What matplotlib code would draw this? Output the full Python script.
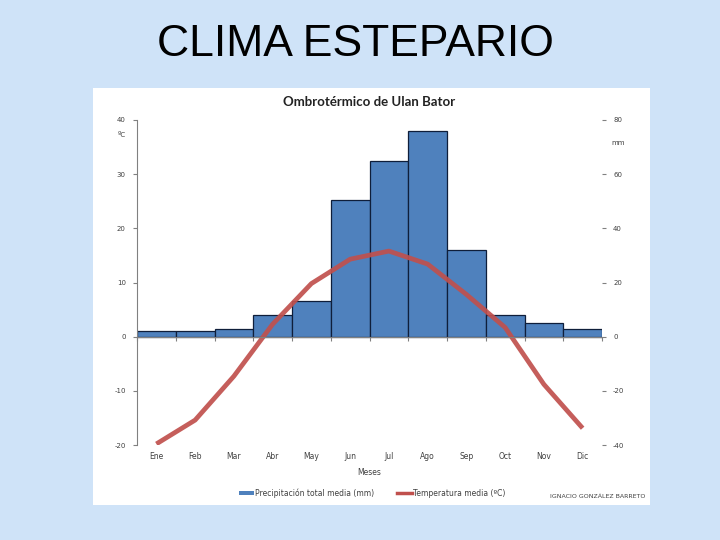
import matplotlib.pyplot as plt
import matplotlib as mpl
from matplotlib.patches import Rectangle, Patch
from matplotlib.lines import Line2D
import numpy as np

mpl.use("Agg")

# data
meses = ["Ene", "Feb", "Mar", "Abr", "May", "Jun",
         "Jul", "Ago", "Sep", "Oct", "Nov", "Dic"]
precipitacion = [2, 2, 3, 8, 13, 50.5, 65, 76, 32, 8, 5, 3]
temperatura = [-19.8, -15.4, -7.3, 2.3, 9.8, 14.3,
               15.8, 13.4, 7.8, 1.7, -8.8, -16.9]
temp_ticks = [40, 30, 20, 10, 0, -10, -20]
prec_ticks = [80, 60, 40, 20, 0, -20, -40]

BAR_BLUE = "#4f81bd"
LINE_RED = "#c0504d"
GREY = "#404040"

fig = plt.figure(figsize=(7.2, 5.4), dpi=100)
fig.patch.set_facecolor("#cfe3f8")

# white chart panel on the slide
fig.patches.append(Rectangle((93 / 720, 1 - 505 / 540), 557 / 720, 417 / 540,
                             transform=fig.transFigure, facecolor="white",
                             edgecolor="none", zorder=-5))

fig.text(355 / 720, 1 - 45 / 540, "CLIMA ESTEPARIO", ha="center", va="center",
         fontsize=32, family="Liberation Sans", color="black")

ax = fig.add_axes([137 / 720, 1 - 445 / 540, 465 / 720, 325 / 540])
ax2 = ax.twinx()

x = np.arange(len(meses))

ax2.bar(x, precipitacion, width=1.0, color=BAR_BLUE, edgecolor="#0f1e3a",
        linewidth=0.9)
ax2.set_ylim(-40, 80)
ax2.set_yticks(prec_ticks)
ax2.set_yticklabels([str(t) for t in prec_ticks])

ax.plot(x, temperatura, color=LINE_RED, lw=3.4, solid_capstyle="butt",
        alpha=0.92)
ax.set_ylim(-20, 40)
ax.set_yticks(temp_ticks)
ax.set_yticklabels([str(t) for t in temp_ticks])
ax.set_xlim(-0.5, len(meses) - 0.5)

# line above bars
ax.set_zorder(ax2.get_zorder() + 1)
ax.patch.set_visible(False)
ax2.patch.set_visible(False)

# horizontal axis at zero with ticks between categories
ax.spines["bottom"].set_position(("data", 0))
ax.spines["bottom"].set_color("#808080")
ax.set_xticks(np.arange(len(meses) + 1) - 0.5)
ax.set_xticklabels([])
ax.tick_params(axis="x", length=3, direction="out", color="#808080")

for s in ["top", "right"]:
    ax.spines[s].set_visible(False)
for s in ["top", "right", "left", "bottom"]:
    ax2.spines[s].set_visible(False)
ax.spines["left"].set_color("#808080")

ax.tick_params(axis="y", labelsize=5, length=3, color="#808080",
               labelcolor=GREY, pad=5)
ax2.tick_params(axis="y", labelsize=5, length=3, color="#808080",
                labelcolor=GREY, pad=5)

# month labels at the bottom
sec = ax.secondary_xaxis(location=0)
sec.spines["bottom"].set_visible(False)
sec.set_xticks(x)
sec.set_xticklabels(meses)
sec.tick_params(length=0, labelsize=5.5, labelcolor=GREY, pad=5)
sec.set_xlabel("Meses", fontsize=5.5, color=GREY, labelpad=5)

ax.set_title("Ombrotérmico de Ulan Bator", fontsize=9.5, fontweight="bold",
             family="Lato", color="#222222", pad=10)

fig.text(118 / 720, 1 - 135 / 540, "ºC", fontsize=5, color=GREY,
         ha="left", va="center")
fig.text(611 / 720, 1 - 143 / 540, "mm", fontsize=5, color=GREY,
         ha="left", va="center")

handles = [Patch(facecolor=BAR_BLUE, edgecolor="none"),
           Line2D([0], [0], color=LINE_RED, lw=2.5)]
fig.legend(handles, ["Precipitación total media (mm)", "Temperatura media (ºC)"],
           loc="center", bbox_to_anchor=(372 / 720, 1 - 493 / 540), ncol=2,
           frameon=False, fontsize=5.5, handlelength=2.0, handleheight=0.6,
           columnspacing=3, handletextpad=0.1, labelcolor=GREY)

fig.text(645 / 720, 1 - 496 / 540, "IGNACIO GONZÁLEZ BARRETO", fontsize=4.5,
         color=GREY, ha="right", va="center")

fig.savefig("out.png", dpi=100, facecolor=fig.get_facecolor())
